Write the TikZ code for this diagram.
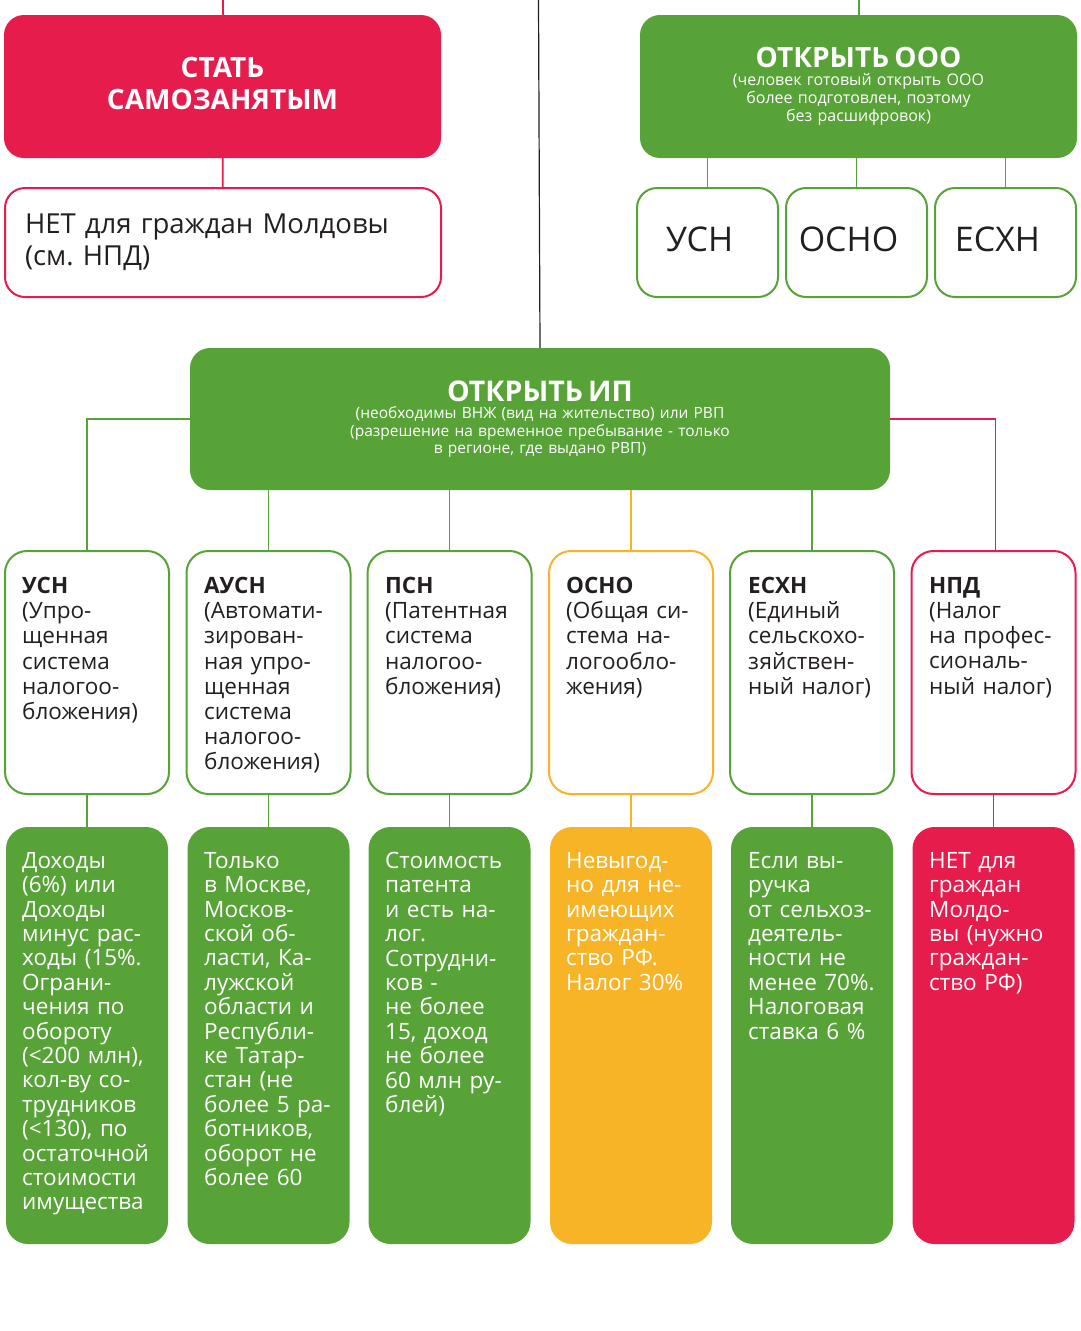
\documentclass[tikz,border=0pt]{standalone}
\usepackage{fontspec}
\setmainfont{Open Sans}
\usepackage{color}
\definecolor{grn}{HTML}{58A337}
\definecolor{rd}{HTML}{E61C4D}
\definecolor{org}{HTML}{F7B427}
\definecolor{ink}{HTML}{231F20}
\frenchspacing

\begin{document}
\begin{tikzpicture}
    [%%%%%%%%%%%%%%%%%%%%%%%%%%%%%%
        x=1pt,y=-1pt,
        bigbox/.style={rectangle,rounded corners=20pt,inner sep=0pt,minimum width=437pt,minimum height=143pt,text width=420pt,align=center,text=white},
        outbox/.style={rectangle,draw,line width=2pt,rounded corners=20pt,fill=white,inner sep=0pt,text=ink},
        rulebox/.style={outbox,rounded corners=22pt,minimum width=164pt,minimum height=243pt},
        notebox/.style={rectangle,rounded corners=22pt,inner sep=0pt,minimum width=162pt,minimum height=417pt},
        bodytxt/.style={anchor=north west,inner sep=0pt,text width=150pt,align=left,text=ink,font=\fontsize{22.5}{25.2}\selectfont},
        notetxt/.style={bodytxt,text=white,font=\fontsize{22.5}{24.4}\selectfont},
        link/.style={line width=1.8pt},
    ]%%%%%%%%%%%%%%%%%%%%%%%%%%%%%%

\useasboundingbox (0,0) rectangle (1081,1331);

% top row
\node[bigbox, fill=rd, text depth=38pt, font=\fontsize{28}{32}\selectfont\bfseries] (self) at (222.5,86.5) {СТАТЬ\\САМОЗАНЯТЫМ};
\node[outbox, draw=rd, minimum width=436pt, minimum height=109pt, text width=396pt, align=left, font=\fontsize{27.5}{32}\selectfont] (selfno) at (223,242.5) {НЕТ для граждан Молдовы\\(см. НПД)};
\coordinate (selftop) at (223,0);
\draw[link, rd] (selftop) -- (self);
\draw[link, rd] (self) -- (selfno);

\node[bigbox, fill=grn, font=\fontsize{16}{18}\selectfont] (ooo) at (858.5,86.5) {{\fontsize{28}{28}\selectfont\bfseries ОТКРЫТЬ ООО}\\(человек готовый открыть ООО\\более подготовлен, поэтому\\без расшифровок)};
\coordinate (ooontop) at (859,0);
\draw[link, grn] (ooontop) -- (ooo);

\foreach \n/\x/\t in {ousn/707.5/УСН, oosno/856.5/ОСНО, oeshn/1005.5/ЕСХН}{
    \node[outbox, draw=grn, minimum width=141pt, minimum height=109pt] (\n) at (\x,242.5) {};
    \node[text=ink, inner sep=0pt, font=\fontsize{34}{34}\selectfont] (\n-txt) at ([xshift=-8pt, yshift=3.5pt]\n.center) {\t};
    \draw[link, grn] (\n.north) -- (\n.north |- ooo.south);
}

% ip
\node[bigbox, fill=grn, minimum width=700pt, minimum height=142pt, text width=680pt, font=\fontsize{15.5}{17.5}\selectfont] (ip) at (540,419) {{\fontsize{28.5}{28.5}\selectfont\bfseries ОТКРЫТЬ ИП}\\(необходимы ВНЖ (вид на жительство) или РВП\\(разрешение на временное пребывание - только\\в регионе, где выдано РВП)};
\coordinate (iptop) at (538.5,0);
\draw[line width=1.2pt, ink] (iptop) -- (ip.north);

\foreach \n/\x/\c in {usn/87/grn, ausn/268.5/grn, psn/449.5/grn, osno/631/org, eshn/812/grn, npd/993.5/rd}{
    \node[rulebox, draw=\c] (\n) at (\x,672.5) {};
    \node[notebox, fill=\c] (\n-note) at (\x,1035.5) {};
    \draw[link, \c] (\n) -- (\n-note);
}

\draw[link, grn] (ip.west) -| (usn.north);
\draw[link, rd] (ip.east) -| ([xshift=2pt]npd.north);
\foreach \n/\c in {ausn/grn, psn/grn, osno/org, eshn/grn}
    \draw[link, \c] (\n.north) -- (\n.north |- ip.south);

% regimes
\node[bodytxt] (usntxt) at (22,577) {\textbf{УСН}\\(Упро-\\щенная\\система\\налогоо-\\бложения)};
\node[bodytxt] (ausntxt) at (204,577) {\textbf{АУСН}\\(Автомати-\\зирован-\\ная упро-\\щенная\\система\\налогоо-\\бложения)};
\node[bodytxt] (psntxt) at (385,577) {\textbf{ПСН}\\(Патентная\\система\\налогоо-\\бложения)};
\node[bodytxt] (osnotxt) at (566,577) {\textbf{ОСНО}\\(Общая си-\\стема на-\\логообло-\\жения)};
\node[bodytxt] (eshntxt) at (748,577) {\textbf{ЕСХН}\\(Единый\\сельскохо-\\зяйствен-\\ный налог)};
\node[bodytxt] (npdtxt) at (929,577) {\textbf{НПД}\\(Налог\\на профес-\\сиональ-\\ный налог)};

% notes
\node[notetxt] (usnnotetxt) at (22,852) {Доходы\\(6\%) или\\Доходы\\минус рас-\\ходы (15\%.\\Ограни-\\чения по\\обороту\\(<200 млн),\\кол-ву со-\\трудников\\(<130), по\\остаточной\\стоимости\\имущества};
\node[notetxt] (ausnnotetxt) at (204,852) {Только\\в Москве,\\Москов-\\ской об-\\ласти, Ка-\\лужской\\области и\\Республи-\\ке Татар-\\стан (не\\более 5 ра-\\ботников,\\оборот не\\более 60};
\node[notetxt] (psnnotetxt) at (385,852) {Стоимость\\патента\\и есть на-\\лог.\\Сотрудни-\\ков -\\не более\\15, доход\\не более\\60 млн ру-\\блей)};
\node[notetxt] (osnonotetxt) at (566,852) {Невыгод-\\но для не-\\имеющих\\граждан-\\ство РФ.\\Налог 30\%};
\node[notetxt] (eshnnotetxt) at (748,852) {Если вы-\\ручка\\от сельхоз-\\деятель-\\ности не\\менее 70\%.\\Налоговая\\ставка 6 \%};
\node[notetxt] (npdnotetxt) at (929,852) {НЕТ для\\граждан\\Молдо-\\вы (нужно\\граждан-\\ство РФ)};

\end{tikzpicture}
\end{document}
